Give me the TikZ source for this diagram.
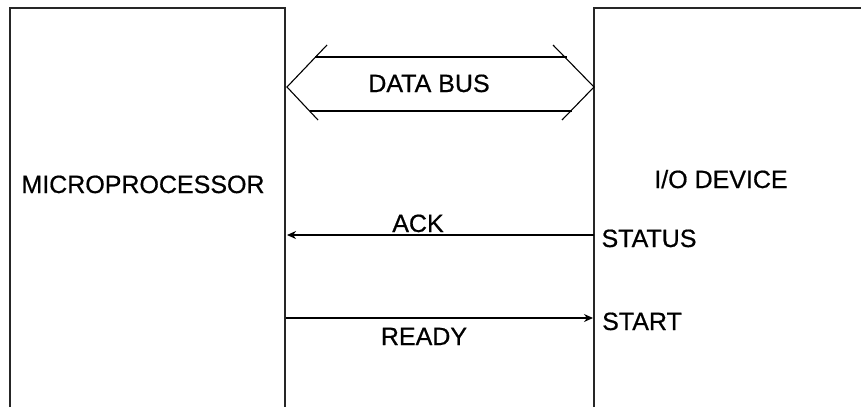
\documentclass[tikz,border=0pt]{standalone}
\usepackage{fontspec}
\setmainfont{Liberation Sans}[UprightFeatures={FakeBold=0.6}]
\usetikzlibrary{arrows.meta}
\begin{document}
\begin{tikzpicture}[x=1pt,y=-1pt,
  box/.style={line width=1.8pt, draw=black!85},
  bus/.style={line width=1.1pt},
  lbl/.style={font=\fontsize{25}{30}\selectfont, inner sep=0pt, anchor=base},
  sig/.style={line width=1.3pt, -{Stealth[length=9pt,width=8pt]}}]
\useasboundingbox (0,0) rectangle (861,407);
% boxes (open at bottom / right)
\coordinate (mpBL) at (10,407);
\coordinate (mpTL) at (10,8);
\coordinate (mpTR) at (285,8);
\coordinate (mpBR) at (285,407);
\coordinate (ioBL) at (594,407);
\coordinate (ioTL) at (594,8);
\coordinate (ioTR) at (861,8);
\draw[box] (mpBL) -- (mpTL) -- (mpTR) -- (mpBR);
\draw[box] (ioBL) -- (ioTL) -- (ioTR);
% data bus
\coordinate (busL) at (287,87);
\coordinate (busR) at (594,87);
\coordinate (bLa) at (327,45);
\coordinate (bLb) at (318,120);
\coordinate (bRa) at (553,45);
\coordinate (bRb) at (562,120);
\coordinate (bTl) at (315,57);
\coordinate (bTr) at (567,57);
\coordinate (bBl) at (310,111);
\coordinate (bBr) at (572,111);
\draw[bus] (bLa) -- (busL) -- (bLb);
\draw[bus] (bRa) -- (busR) -- (bRb);
\draw[bus] (bTl) -- (bTr);
\draw[bus] (bBl) -- (bBr);
% labels
\node[lbl] (databus) at (429,92) {DATA BUS};
\node[lbl] (mp) at (143,193) {MICROPROCESSOR};
\node[lbl] (io) at (721,188) {I/O DEVICE};
\node[lbl] (ack) at (418,232) {ACK};
\node[lbl] (ready) at (424,345) {READY};
\node[lbl] (status) at (649,247) {STATUS};
\node[lbl] (start) at (642,330) {START};
% signals
\coordinate (ackFrom) at (594,235);
\coordinate (ackTo) at (287,235);
\coordinate (rdyFrom) at (286,318);
\coordinate (rdyTo) at (593,318);
\draw[sig] (ackFrom) -- (ackTo);
\draw[sig] (rdyFrom) -- (rdyTo);
\end{tikzpicture}
\end{document}
